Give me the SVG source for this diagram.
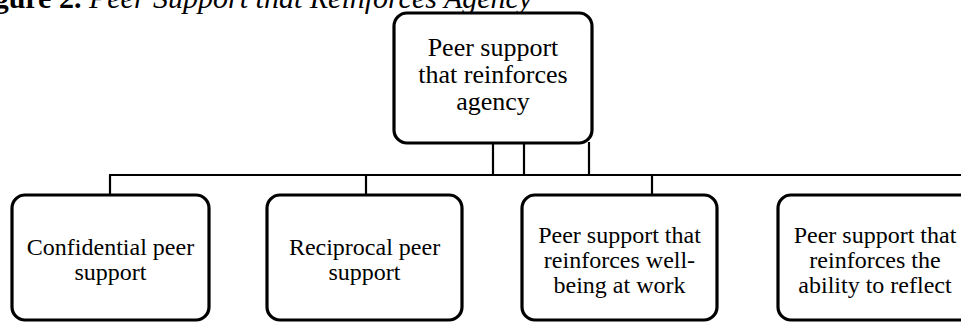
<svg xmlns="http://www.w3.org/2000/svg" width="961" height="322" viewBox="0 0 961 322">
<style>
.box{fill:#fff;stroke:#000;stroke-width:3.2}
.t{font-family:"Liberation Serif","Times New Roman",serif;font-size:24px;fill:#000;text-anchor:middle}
.tb{font-size:26px}
.conn line{stroke:#000;stroke-width:2.2}
.title{font-family:"Liberation Serif","Times New Roman",serif;font-size:30px;fill:#000}
</style>
<rect width="961" height="322" fill="#fff"/>
<text class="title" x="-33" y="8"><tspan font-weight="bold">Figure 2.</tspan><tspan font-style="italic"> Peer Support that Reinforces Agency</tspan></text>
<g id="connectors" class="conn">
<line x1="493" y1="143" x2="493" y2="175"/>
<line x1="524" y1="143" x2="524" y2="175"/>
<line x1="589" y1="142" x2="589" y2="175"/>
<line x1="109" y1="175" x2="961" y2="175"/>
<line x1="110" y1="175" x2="110" y2="195"/>
<line x1="366" y1="175" x2="366" y2="195"/>
<line x1="652" y1="175" x2="652" y2="195"/>
</g>
<g id="root">
<rect class="box" x="394" y="13" width="198" height="130" rx="13"/>
<text class="t tb" x="493" y="56">Peer support</text>
<text class="t tb" x="493" y="83">that reinforces</text>
<text class="t tb" x="493" y="110">agency</text>
</g>
<g id="n1">
<rect class="box" x="12" y="195" width="197" height="125" rx="13"/>
<text class="t" x="110.5" y="255">Confidential peer</text>
<text class="t" x="110.5" y="280">support</text>
</g>
<g id="n2">
<rect class="box" x="267" y="195" width="195" height="125" rx="13"/>
<text class="t" x="364.5" y="255">Reciprocal peer</text>
<text class="t" x="364.5" y="280">support</text>
</g>
<g id="n3">
<rect class="box" x="522" y="195" width="195" height="125" rx="13"/>
<text class="t" x="619.5" y="243">Peer support that</text>
<text class="t" x="619.5" y="268">reinforces well-</text>
<text class="t" x="619.5" y="293">being at work</text>
</g>
<g id="n4">
<rect class="box" x="778" y="195" width="196" height="125" rx="13"/>
<text class="t" x="875" y="243">Peer support that</text>
<text class="t" x="875" y="268">reinforces the</text>
<text class="t" x="875" y="293">ability to reflect</text>
</g>
</svg>
